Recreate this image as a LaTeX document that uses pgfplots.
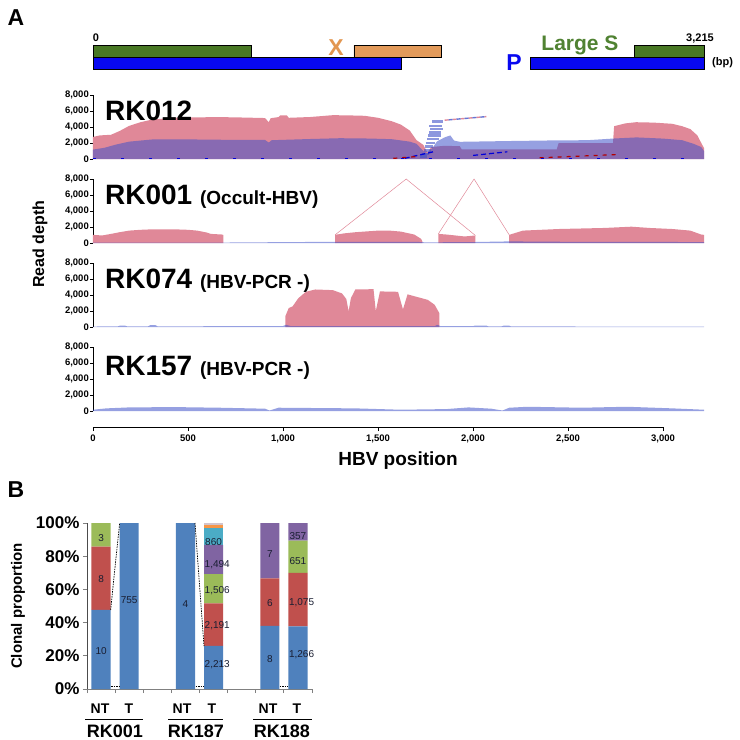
\documentclass[border=0pt]{standalone}
\usepackage{fontspec}
\setmainfont{Liberation Sans}
\usepackage{pgfplots}
\pgfplotsset{compat=1.18}

\definecolor{pinkc}{RGB}{224,136,152}
\definecolor{bluec}{RGB}{64,82,200}
\definecolor{genegreen}{RGB}{72,120,36}
\definecolor{geneorange}{RGB}{226,154,90}
\definecolor{geneblue}{RGB}{8,8,240}
\definecolor{txtgreen}{RGB}{80,130,50}
\definecolor{txtorange}{RGB}{226,150,80}
\definecolor{xlblue}{RGB}{79,129,189}
\definecolor{xlred}{RGB}{192,80,77}
\definecolor{xlgreen}{RGB}{155,187,89}
\definecolor{xlpurple}{RGB}{128,100,162}
\definecolor{xlteal}{RGB}{75,172,198}
\definecolor{xlorange}{RGB}{247,150,70}
\definecolor{xlgray}{RGB}{210,196,204}
\definecolor{lbl}{RGB}{25,30,50}

\tikzset{bnum/.style={font=\fontsize{10}{11}\selectfont, text=lbl, inner sep=0.5pt}}
\pgfplotsset{
  every axis/.append style={enlargelimits=false},
  depth/.style={at={(93pt,#1)}, anchor=south west, scale only axis,
    width=611pt, height=64pt, xmin=0, xmax=3215, ymin=0, ymax=8000,
    axis x line=none, axis y line*=left, ytick={0,2000,4000,6000,8000},
    tick align=outside, major tick length=3pt,
    axis line style={line width=0.9pt, black},
    every tick/.style={line width=0.9pt, black},
    /pgf/number format/1000 sep={,},
    /pgf/number format/assume math mode=true,
    yticklabel style={font=\bfseries\fontsize{9.5}{10}\selectfont, inner sep=1pt},
    clip=false},
  pinkarea/.style={fill=pinkc, draw=none},
  bluearea/.style={fill=bluec, fill opacity=0.55, draw=none},
}

\begin{document}
\begin{tikzpicture}
\useasboundingbox (0pt,0pt) rectangle (740pt,-740pt);

% panel letters
\node[font=\bfseries\fontsize{23}{25}\selectfont] at (16pt,-18pt) {A};
\node[font=\bfseries\fontsize{23}{25}\selectfont] at (16pt,-490pt) {B};

% ---------------- gene map ----------------
\begin{axis}[at={(93pt,-70pt)}, anchor=south west, scale only axis,
  width=611pt, height=26pt, xmin=0, xmax=3215, ymin=0, ymax=26, hide axis, clip=false]
\addplot[fill=geneblue, draw=black, line width=0.5pt] coordinates {(0,1)(1621,1)(1621,13)(0,13)(0,1)};
\addplot[fill=geneblue, draw=black, line width=0.5pt] coordinates {(2300,1)(3215,1)(3215,13)(2300,13)(2300,1)};
\addplot[fill=genegreen, draw=black, line width=0.5pt] coordinates {(0,13)(832,13)(832,25)(0,25)(0,13)};
\addplot[fill=geneorange, draw=black, line width=0.5pt] coordinates {(1373,13)(1832,13)(1832,25)(1373,25)(1373,13)};
\addplot[fill=genegreen, draw=black, line width=0.5pt] coordinates {(2848,13)(3215,13)(3215,25)(2848,25)(2848,13)};
\end{axis}
\node[anchor=base, font=\bfseries\fontsize{11}{12}\selectfont] at (96pt,-41pt) {0};
\node[anchor=base, font=\bfseries\fontsize{11}{12}\selectfont] at (700pt,-41pt) {3,215};
\node[anchor=base west, font=\bfseries\fontsize{11}{12}\selectfont, inner sep=0pt] at (712pt,-65pt) {(bp)};
\node[anchor=base, font=\bfseries\fontsize{23}{25}\selectfont, text=txtorange] at (336pt,-55pt) {X};
\node[anchor=base, font=\bfseries\fontsize{23}{25}\selectfont, text=geneblue] at (514pt,-70pt) {P};
\node[anchor=base, font=\bfseries\fontsize{21}{24}\selectfont, text=txtgreen] at (580pt,-50pt) {Large S};

% ---------------- RK012 ----------------
\begin{axis}[depth={-159pt}]
\addplot[pinkarea] coordinates {(0,2760)(36,2950)(95,3030)(140,3500)(190,4140)(250,4600)(310,4925)(420,5150)(524,5200)(667,5240)(800,5180)(905,5120)(925,4600)(935,5100)(976,5240)(985,5450)(1020,5450)(1030,5150)(1143,5250)(1262,5480)(1350,5450)(1429,5400)(1500,5150)(1571,4730)(1620,4300)(1667,3550)(1702,2360)(1738,1770)(1760,800)(1780,1500)(1850,1650)(1930,1600)(1940,1200)(2440,1200)(2450,1970)(2736,1970)(2742,4100)(2800,4450)(2857,4600)(2950,4550)(3048,4400)(3100,4100)(3143,3740)(3180,2950)(3205,1800)(3215,1380)} \closedcycle;
\addplot[bluearea] coordinates {(0,1180)(60,1400)(120,1800)(190,2170)(310,2440)(500,2450)(700,2400)(905,2380)(925,2050)(940,2350)(1143,2500)(1300,2600)(1450,2560)(1571,2480)(1667,2170)(1702,1900)(1738,1000)(1760,700)(1790,1500)(1810,2200)(1850,2700)(1880,2950)(1900,2300)(1930,2150)(2200,2250)(2440,2330)(2600,2350)(2740,2560)(2860,2700)(3000,2550)(3100,2350)(3160,1900)(3200,1500)(3215,1000)} \closedcycle;
\addplot[bluec, line width=2.6pt, opacity=0.6, unbounded coords=jump] coordinates {(1785,4700)(1840,4700)(1840,nan)(1770,4150)(1835,4150)(1835,nan)(1775,3750)(1840,3750)(1840,nan)(1770,3350)(1830,3350)(1830,nan)(1765,2950)(1830,2950)(1830,nan)(1760,2500)(1820,2500)(1820,nan)(1752,2000)(1800,2000)(1800,nan)(1745,1600)(1790,1600)(1790,nan)(1740,1100)(1780,1100)(1780,nan)(1730,650)(1770,650)(1770,nan)(1720,300)(1760,300)};
\addplot[pinkc, line width=1.4pt, dash pattern=on 4pt off 4pt] coordinates {(1850,4850)(2070,5300)};
\addplot[bluec!80, line width=1.4pt, dash pattern=on 4pt off 4pt, dash phase=4pt] coordinates {(1850,4850)(2070,5300)};
\addplot[blue!85!black, line width=1.3pt, dash pattern=on 5pt off 3pt] coordinates {(1640,80)(1790,900)};
\addplot[blue!85!black, line width=1.2pt, dash pattern=on 5pt off 3pt] coordinates {(2000,450)(2180,900)};
\addplot[red!70!black, line width=1.2pt, dash pattern=on 4pt off 5pt] coordinates {(1580,80)(1700,300)};
\addplot[red!70!black, line width=1.2pt, dash pattern=on 4pt off 5pt] coordinates {(2350,150)(2750,550)};
\addplot[blue!85!black, line width=1.2pt, dash pattern=on 3pt off 25pt] coordinates {(0,60)(3215,60)};
\node[anchor=base west, font=\bfseries\fontsize{28}{30}\selectfont, inner sep=0pt] at (axis cs:63,4850) {RK012};
\end{axis}

% ---------------- RK001 ----------------
\begin{axis}[depth={-243pt}]
\addplot[pinkarea] coordinates {(0,1020)(48,940)(95,1140)(140,1350)(190,1550)(250,1650)(310,1710)(429,1710)(500,1650)(548,1550)(600,1300)(619,1140)(679,1060)(686,1000)} \closedcycle;
\addplot[pinkarea] coordinates {(1274,1020)(1320,1200)(1381,1350)(1500,1550)(1560,1550)(1619,1430)(1690,1060)(1726,530)(1733,200)} \closedcycle;
\addplot[pinkarea] coordinates {(1817,1140)(1860,1060)(1955,820)(2012,940)} \closedcycle;
\addplot[pinkarea] coordinates {(2190,1020)(2262,1550)(2452,1750)(2690,1880)(2833,2040)(2929,1880)(3048,1750)(3143,1550)(3200,1060)(3215,1020)} \closedcycle;
\addplot[bluearea] coordinates {(0,60)(700,60)(1270,150)(1700,150)(1750,80)(2000,120)(2190,200)(2500,150)(3215,120)} \closedcycle;
\addplot[pinkc, line width=0.5pt] coordinates {(1274,1020)(1648,8000)(2012,940)};
\addplot[pinkc, line width=0.5pt] coordinates {(1817,1140)(2005,8000)(2190,1020)};
\node[anchor=base west, font=\bfseries\fontsize{28}{30}\selectfont, inner sep=0pt] at (axis cs:63,4850) {RK001 {\fontsize{19}{21}\selectfont (Occult-HBV)}};
\end{axis}

% ---------------- RK074 ----------------
\begin{axis}[depth={-327pt}]
\addplot[pinkarea] coordinates {(1012,1350)(1030,2370)(1050,2570)(1080,3590)(1120,4400)(1170,4690)(1262,4610)(1310,4200)(1333,3500)(1345,1960)(1357,3600)(1380,4690)(1476,4730)(1488,2000)(1510,4450)(1605,4400)(1631,2200)(1655,4080)(1714,3700)(1762,3390)(1798,2770)(1822,1750)} \closedcycle;
\addplot[bluearea] coordinates {(0,60)(130,80)(140,160)(170,160)(180,80)(290,90)(300,220)(330,220)(340,80)(1000,120)(1015,280)(1040,120)(1800,120)(1810,280)(1830,100)(2000,100)(2010,180)(2070,180)(2080,80)(2150,80)(2160,160)(2190,160)(2200,70)(3215,50)} \closedcycle;
\node[anchor=base west, font=\bfseries\fontsize{28}{30}\selectfont, inner sep=0pt] at (axis cs:63,4850) {RK074 {\fontsize{19}{21}\selectfont (HBV-PCR -)}};
\end{axis}

% ---------------- RK157 ----------------
\begin{axis}[depth={-411pt}]
\addplot[bluearea] coordinates {(0,160)(71,330)(190,450)(429,490)(667,410)(905,290)(929,60)(976,410)(1380,330)(1619,160)(1860,240)(1976,450)(2095,290)(2155,60)(2190,410)(2286,530)(2571,410)(2810,530)(3048,330)(3215,160)} \closedcycle;
\node[anchor=base west, font=\bfseries\fontsize{28}{30}\selectfont, inner sep=0pt] at (axis cs:63,4500) {RK157 {\fontsize{19}{21}\selectfont (HBV-PCR -)}};
\end{axis}

% ---------------- bottom x axis ----------------
\begin{axis}[at={(93pt,-427pt)}, anchor=south west, scale only axis,
  width=570pt, height=8pt, xmin=0, xmax=3000, ymin=0, ymax=1,
  axis x line*=bottom, axis y line=none, xtick={0,500,...,3000},
  tick align=outside, major tick length=4pt,
  axis line style={line width=0.9pt, black},
  every tick/.style={line width=0.9pt, black},
  /pgf/number format/1000 sep={,},
  /pgf/number format/assume math mode=true,
  xticklabel style={font=\bfseries\fontsize{9.5}{10}\selectfont}]
\addplot[draw=none] coordinates {(0,0)(3000,0)};
\end{axis}
\node[font=\bfseries\fontsize{19}{21}\selectfont] at (398pt,-461pt) {HBV position};
\node[rotate=90, font=\bfseries\fontsize{16}{18}\selectfont] at (40pt,-244pt) {Read depth};

% ---------------- panel B ----------------
\begin{axis}[at={(87pt,-689pt)}, anchor=south west, scale only axis,
  width=225pt, height=166pt, xmin=0.5, xmax=8.5, ymin=0, ymax=100,
  ybar stacked, bar width=0.68,
  axis x line*=bottom, axis y line*=left,
  xtick={0.5,1.5,...,8.5}, xticklabels={},
  ytick={0,20,40,60,80,100}, yticklabels={0\%,20\%,40\%,60\%,80\%,100\%},
  tick align=outside, major tick length=4pt,
  x axis line style={gray, line width=0.8pt},
  y axis line style={black!70, line width=0.8pt},
  every tick/.style={gray, line width=0.8pt},
  yticklabel style={font=\bfseries\fontsize{17}{18}\selectfont},
  clip=false]
\addplot[fill=xlblue, draw=none] coordinates {(1,47.62)(2,100)(4,100)(5,25.93)(7,38.10)(8,37.80)};
\addplot[fill=xlred, draw=none] coordinates {(1,38.10)(2,0)(4,0)(5,25.67)(7,28.57)(8,32.10)};
\addplot[fill=xlgreen, draw=none] coordinates {(1,14.28)(2,0)(4,0)(5,17.65)(7,0)(8,19.44)};
\addplot[fill=xlpurple, draw=none] coordinates {(1,0)(2,0)(4,0)(5,17.51)(7,33.33)(8,10.66)};
\addplot[fill=xlteal, draw=none] coordinates {(1,0)(2,0)(4,0)(5,10.08)(7,0)(8,0)};
\addplot[fill=xlorange, draw=none] coordinates {(1,0)(2,0)(4,0)(5,1.99)(7,0)(8,0)};
\addplot[fill=xlgray, draw=none] coordinates {(1,0)(2,0)(4,0)(5,1.17)(7,0)(8,0)};
\end{axis}
\begin{axis}[at={(87pt,-689pt)}, anchor=south west, scale only axis,
  width=225pt, height=166pt, xmin=0.5, xmax=8.5, ymin=0, ymax=100, hide axis, clip=false]
\addplot[black, line width=0.7pt, dash pattern=on 1.5pt off 1pt] coordinates {(1.34,47.6)(1.66,100)};
\addplot[black, line width=0.7pt, dash pattern=on 1.5pt off 1pt] coordinates {(1.36,1.5)(1.64,1.5)};
\addplot[black, line width=0.7pt, dash pattern=on 1.5pt off 1pt] coordinates {(4.34,100)(4.66,25.9)};
\addplot[black, line width=0.7pt, dash pattern=on 1.5pt off 1pt] coordinates {(4.36,1.5)(4.64,1.5)};
\addplot[black, line width=0.7pt, dash pattern=on 1.5pt off 1pt] coordinates {(7.36,1.5)(7.64,1.5)};
\node[bnum] at (axis cs:1,91) {3};
\node[bnum] at (axis cs:1,66) {8};
\node[bnum] at (axis cs:1,23) {10};
\node[bnum] at (axis cs:2,53.6) {755};
\node[bnum] at (axis cs:4,51) {4};
\node[bnum] at (axis cs:5,88.5) {860};
\node[bnum, anchor=west] at (axis cs:4.66,74.7) {1,494};
\node[bnum, anchor=west] at (axis cs:4.66,59) {1,506};
\node[bnum, anchor=west] at (axis cs:4.66,38) {2,191};
\node[bnum, anchor=west] at (axis cs:4.66,14.5) {2,213};
\node[bnum] at (axis cs:7,81) {7};
\node[bnum] at (axis cs:7,52) {6};
\node[bnum] at (axis cs:7,18) {8};
\node[bnum] at (axis cs:8,92) {357};
\node[bnum] at (axis cs:8,77) {651};
\node[bnum, anchor=west] at (axis cs:7.66,52) {1,075};
\node[bnum, anchor=west] at (axis cs:7.66,20.5) {1,266};
\end{axis}
\node[rotate=90, font=\bfseries\fontsize{15}{16}\selectfont] at (18pt,-606pt) {Clonal proportion};

% group labels
\foreach \xa/\xb/\xc/\lab in {100/129/115/RK001, 182/212/196/RK187, 268/297/282/RK188}{
  \node[font=\bfseries\fontsize{14}{15}\selectfont] at (\xa pt,-709pt) {NT};
  \node[font=\bfseries\fontsize{14}{15}\selectfont] at (\xb pt,-709pt) {T};
  \node[font=\bfseries\fontsize{18}{19}\selectfont] at (\xc pt,-731pt) {\lab};
}
\draw[line width=1pt] (85pt,-719pt) -- (143pt,-719pt);
\draw[line width=1pt] (168pt,-719pt) -- (223pt,-719pt);
\draw[line width=1pt] (253pt,-719pt) -- (312pt,-719pt);
\end{tikzpicture}
\end{document}
